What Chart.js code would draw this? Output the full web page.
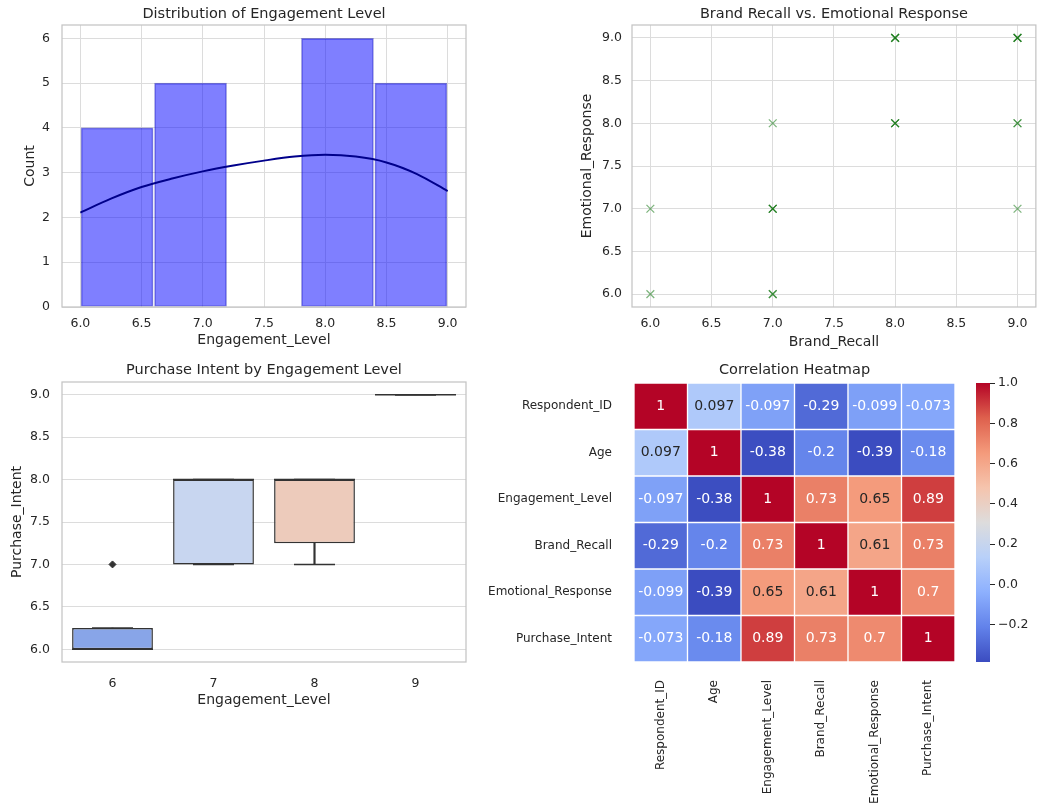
<!DOCTYPE html>
<html>
<head>
<meta charset="utf-8">
<script src="https://cdn.jsdelivr.net/npm/chart.js@4.4.1/dist/chart.umd.min.js"></script>
<style>
  body { margin: 0; background: #fff; }
  #wrap { position: relative; width: 1037px; height: 803px; overflow: hidden; }
  canvas { position: absolute; }
</style>
</head>
<body>
<div id="wrap">
  <canvas id="histChart" width="480" height="360" style="left:0;top:0"></canvas>
  <canvas id="scatterChart" width="497" height="360" style="left:540px;top:0"></canvas>
  <canvas id="boxChart" width="480" height="370" style="left:0;top:350px"></canvas>
  <canvas id="heatChart" width="480" height="453" style="left:480px;top:350px"></canvas>
  <canvas id="cbarChart" width="77" height="453" style="left:960px;top:350px"></canvas>
</div>
<script>
// histogram of engagement level + kde
var binCenters = [6.3, 6.9, 7.5, 8.1, 8.7];
var binCounts = [4, 5, 0, 6, 5];
var kdeX = [6.0, 6.25, 6.5, 6.75, 7.0, 7.25, 7.5, 7.75, 8.0, 8.25, 8.5, 8.75, 9.0];
var kdeY = [2.11, 2.42, 2.68, 2.87, 3.03, 3.16, 3.27, 3.36, 3.40, 3.36, 3.23, 2.97, 2.59];

// scatter: brand recall vs emotional response
var brandRecall = [6, 6, 7, 7, 7, 7, 7, 7, 8, 8, 8, 8, 8, 8, 9, 9, 9, 9, 9, 9];
var emotionalResponse = [7, 6, 8, 7, 7, 7, 6, 6, 9, 9, 9, 8, 8, 8, 9, 9, 9, 8, 8, 7];

// boxplot: purchase intent by engagement level
var boxGroups = ['6', '7', '8', '9'];
var boxQ1 = [6, 7, 7.25, 9];
var boxQ3 = [6.25, 8, 8, 9];
var boxMedian = [6, 8, 8, 9];
var whiskerLow = [6, 7, 7, 9];
var whiskerHigh = [6.25, 8, 8, 9];
var outlierGroup = ['6'];
var outlierValue = [7];
var boxColors = ['#88a5e8', '#c8d6f0', '#edcbbb', '#e48a70'];

// correlation heatmap
var corrLabels = ['Respondent_ID', 'Age', 'Engagement_Level', 'Brand_Recall', 'Emotional_Response', 'Purchase_Intent'];
var corrValues = [
    [1, 0.097, -0.097, -0.29, -0.099, -0.073],
    [0.097, 1, -0.38, -0.2, -0.39, -0.18],
    [-0.097, -0.38, 1, 0.73, 0.65, 0.89],
    [-0.29, -0.2, 0.73, 1, 0.61, 0.73],
    [-0.099, -0.39, 0.65, 0.61, 1, 0.7],
    [-0.073, -0.18, 0.89, 0.73, 0.7, 1]
];
var cbarMin = -0.386;
var cbarMax = 1.0;
var cbarTicks = [-0.2, 0, 0.2, 0.4, 0.6, 0.8, 1.0];

Chart.defaults.font.family = "'DejaVu Sans', sans-serif";
Chart.defaults.font.size = 12.5;
Chart.defaults.color = '#262626';
Chart.defaults.animation = false;
Chart.defaults.plugins.legend.display = false;
Chart.defaults.plugins.tooltip.enabled = false;

var gridColor = '#dcdcdc';
var spineColor = '#c4c4c4';

// coolwarm colormap stops
var coolwarm = [[59,76,192],[98,130,234],[141,176,254],[184,208,249],[221,220,220],[245,196,173],[244,154,123],[222,96,77],[180,4,38]];
function coolwarmRgb(t) {
    t = Math.max(0, Math.min(1, t));
    var p = t * (coolwarm.length - 1);
    var i = Math.min(Math.floor(p), coolwarm.length - 2);
    var f = p - i;
    var a = coolwarm[i], b = coolwarm[i + 1];
    return [0, 1, 2].map(function(k) { return Math.round(a[k] + (b[k] - a[k]) * f); });
}
function corrColor(v) {
    var c = coolwarmRgb((v - cbarMin) / (cbarMax - cbarMin));
    return 'rgb(' + c.join(',') + ')';
}
function textColorFor(v) {
    var c = coolwarmRgb((v - cbarMin) / (cbarMax - cbarMin)).map(function(x) {
        x = x / 255;
        return x <= 0.03928 ? x / 12.92 : Math.pow((x + 0.055) / 1.055, 2.4);
    });
    var lum = 0.2126 * c[0] + 0.7152 * c[1] + 0.0722 * c[2];
    return lum > 0.42 ? '#262626' : '#ffffff';
}

// spines around the plot area
var frame = {
    id: 'frame',
    afterDatasetsDraw: function(chart) {
        var a = chart.chartArea, ctx = chart.ctx;
        ctx.save();
        ctx.strokeStyle = spineColor;
        ctx.lineWidth = 1.25;
        ctx.strokeRect(a.left, a.top, a.right - a.left, a.bottom - a.top);
        ctx.restore();
    }
};

function titleOpts(text, top, bottom) {
    return { display: true, text: text, fullSize: false, font: { size: 14.5, weight: 'normal' }, color: '#262626', padding: { top: top, bottom: bottom } };
}
function fixed1(v) { return Number(v).toFixed(1); }

// Distribution of Engagement Level
new Chart(document.getElementById('histChart'), {
    type: 'bar',
    data: {
        datasets: [{
            type: 'line',
            data: kdeX.map(function(x, i) { return { x: x, y: kdeY[i] }; }),
            borderColor: '#00008b',
            borderWidth: 2,
            pointRadius: 0,
            cubicInterpolationMode: 'monotone'
        }, {
            data: binCenters.map(function(x, i) { return { x: x, y: binCounts[i] }; }),
            backgroundColor: 'rgba(0,0,255,0.5)',
            borderColor: 'rgba(0,0,170,0.45)',
            borderWidth: 1,
            borderSkipped: false,
            barThickness: 'flex',
            barPercentage: 0.98,
            categoryPercentage: 1
        }]
    },
    options: {
        responsive: false,
        layout: { autoPadding: false, padding: { right: 14 } },
        plugins: { title: titleOpts('Distribution of Engagement Level', 6, 1.6) },
        scales: {
            x: {
                type: 'linear', min: 5.85, max: 9.15, offset: false,
                grid: { offset: false, color: gridColor, drawTicks: false },
                border: { display: false },
                ticks: { stepSize: 0.5, includeBounds: false, padding: 9.5, callback: fixed1 },
                title: { display: true, text: 'Engagement_Level', font: { size: 14 }, padding: { bottom: 11.6 } },
                afterFit: function(s) { s.height = 53; }
            },
            y: {
                min: 0, max: 6.3,
                grid: { color: gridColor, drawTicks: false },
                border: { display: false },
                ticks: { stepSize: 1, includeBounds: false, padding: 12 },
                title: { display: true, text: 'Count', font: { size: 14 }, padding: { top: 21.6 } },
                afterFit: function(s) { s.width = 62; }
            }
        }
    },
    plugins: [frame]
});

// Brand Recall vs. Emotional Response
new Chart(document.getElementById('scatterChart'), {
    type: 'scatter',
    data: {
        datasets: [{
            data: brandRecall.map(function(x, i) { return { x: x, y: emotionalResponse[i] }; }),
            pointStyle: 'crossRot',
            pointRadius: 5.5,
            borderWidth: 1.3,
            borderColor: 'rgba(0,110,0,0.5)'
        }]
    },
    options: {
        responsive: false,
        layout: { autoPadding: false, padding: { right: 1 } },
        plugins: { title: titleOpts('Brand Recall vs. Emotional Response', 6, 1.6) },
        scales: {
            x: {
                min: 5.85, max: 9.15,
                grid: { color: gridColor, drawTicks: false },
                border: { display: false },
                ticks: { stepSize: 0.5, includeBounds: false, padding: 9.5, callback: fixed1 },
                title: { display: true, text: 'Brand_Recall', font: { size: 14 }, padding: { bottom: 9.6 } },
                afterFit: function(s) { s.height = 53; }
            },
            y: {
                min: 5.85, max: 9.15,
                grid: { color: gridColor, drawTicks: false },
                border: { display: false },
                ticks: { stepSize: 0.5, includeBounds: false, padding: 10, callback: fixed1 },
                title: { display: true, text: 'Emotional_Response', font: { size: 14 }, padding: { top: 38.6 } },
                afterFit: function(s) { s.width = 92; }
            }
        }
    },
    plugins: [frame]
});

// Purchase Intent by Engagement Level
new Chart(document.getElementById('boxChart'), {
    type: 'bar',
    data: {
        labels: boxGroups,
        datasets: [{
            type: 'line',
            data: outlierGroup.map(function(g, i) { return { x: g, y: outlierValue[i] }; }),
            showLine: false, pointStyle: 'rectRot', pointRadius: 3.5,
            backgroundColor: '#333', borderColor: '#333', borderWidth: 1, order: 0
        }, {
            type: 'line',
            data: boxGroups.map(function(g, i) { return { x: g, y: boxMedian[i] }; }),
            showLine: false, pointStyle: 'line', pointRadius: 40.5,
            borderColor: '#333', borderWidth: 1.5, order: 1
        }, {
            type: 'line',
            data: boxGroups.map(function(g, i) { return { x: g, y: whiskerLow[i] }; })
                .concat(boxGroups.map(function(g, i) { return { x: g, y: whiskerHigh[i] }; })),
            showLine: false, pointStyle: 'line', pointRadius: 20.5,
            borderColor: '#333', borderWidth: 1.5, order: 1
        }, {
            data: boxGroups.map(function(g, i) { return [boxQ1[i], boxQ3[i]]; }),
            backgroundColor: boxColors, borderColor: '#333', borderWidth: 1.5, borderSkipped: false,
            barPercentage: 0.8, categoryPercentage: 1, grouped: false, order: 2
        }, {
            data: boxGroups.map(function(g, i) { return [whiskerLow[i], boxQ1[i]]; }),
            backgroundColor: '#333', barThickness: 1.5, grouped: false, order: 3
        }, {
            data: boxGroups.map(function(g, i) { return [boxQ3[i], whiskerHigh[i]]; }),
            backgroundColor: '#333', barThickness: 1.5, grouped: false, order: 3
        }]
    },
    options: {
        responsive: false,
        layout: { autoPadding: false, padding: { right: 14 } },
        plugins: { title: titleOpts('Purchase Intent by Engagement Level', 11.3, 3.3) },
        scales: {
            x: {
                type: 'category', offset: true,
                grid: { display: false },
                border: { display: false },
                ticks: { padding: 6 },
                title: { display: true, text: 'Engagement_Level', font: { size: 14 }, padding: { bottom: 11.6 } },
                afterFit: function(s) { s.height = 58; }
            },
            y: {
                min: 5.85, max: 9.15,
                grid: { color: gridColor, drawTicks: false },
                border: { display: false },
                ticks: { stepSize: 0.5, includeBounds: false, padding: 12, callback: fixed1 },
                title: { display: true, text: 'Purchase_Intent', font: { size: 14 }, padding: { top: 8.6 } },
                afterFit: function(s) { s.width = 62; }
            }
        }
    },
    plugins: [frame]
});

// numbers written in each heatmap cell
var cellText = {
    id: 'cellText',
    afterDatasetsDraw: function(chart) {
        var ctx = chart.ctx;
        ctx.save();
        ctx.font = "14px 'DejaVu Sans', sans-serif";
        ctx.textAlign = 'center';
        ctx.textBaseline = 'middle';
        corrValues.forEach(function(row, i) {
            var meta = chart.getDatasetMeta(i);
            row.forEach(function(v, j) {
                var bar = meta.data[j];
                ctx.fillStyle = textColorFor(v);
                ctx.fillText(String(v), bar.x, (bar.y + bar.base) / 2);
            });
        });
        ctx.restore();
    }
};

// Correlation Heatmap
new Chart(document.getElementById('heatChart'), {
    type: 'bar',
    data: {
        labels: corrLabels,
        datasets: corrValues.map(function(row, i) {
            return {
                label: corrLabels[i],
                data: row.map(function() { return 1; }),
                backgroundColor: row.map(corrColor),
                borderColor: '#ffffff',
                borderWidth: 1,
                borderSkipped: false,
                barPercentage: 1,
                categoryPercentage: 1
            };
        })
    },
    options: {
        responsive: false,
        layout: { autoPadding: false, padding: { right: 5 } },
        plugins: { title: titleOpts('Correlation Heatmap', 11.3, 4.3) },
        scales: {
            x: {
                stacked: true,
                grid: { display: false },
                border: { display: false },
                ticks: { minRotation: 90, maxRotation: 90, autoSkip: false, padding: 10, font: { size: 12 } },
                afterFit: function(s) { s.height = 141; }
            },
            y: {
                stacked: true, min: 0, max: 6, reverse: true,
                grid: { display: false },
                border: { display: false },
                afterBuildTicks: function(s) {
                    s.ticks = corrLabels.map(function(l, i) { return { value: i + 0.5 }; });
                },
                ticks: {
                    padding: 14, font: { size: 12 },
                    callback: function(v, i) { return corrLabels[i]; }
                },
                afterFit: function(s) { s.width = 154; }
            }
        }
    },
    plugins: [cellText]
});

// colour bar
new Chart(document.getElementById('cbarChart'), {
    type: 'bar',
    data: {
        labels: [''],
        datasets: [{
            data: [[cbarMin, cbarMax]],
            backgroundColor: function(c) {
                var a = c.chart.chartArea;
                if (!a) return 'transparent';
                var g = c.chart.ctx.createLinearGradient(0, a.bottom, 0, a.top);
                coolwarm.forEach(function(rgb, k) {
                    g.addColorStop(k / (coolwarm.length - 1), 'rgb(' + rgb.join(',') + ')');
                });
                return g;
            },
            borderWidth: 0,
            barPercentage: 1,
            categoryPercentage: 1
        }]
    },
    options: {
        responsive: false,
        layout: { autoPadding: false, padding: { left: 16, top: 33, bottom: 141, right: 0 } },
        scales: {
            x: { display: false },
            y: {
                position: 'right', min: cbarMin, max: cbarMax,
                afterBuildTicks: function(s) {
                    s.ticks = cbarTicks.map(function(v) { return { value: v }; });
                },
                grid: { drawOnChartArea: false, drawTicks: true, tickLength: 5, tickColor: '#262626' },
                border: { display: false },
                ticks: {
                    padding: 3,
                    callback: function(v) { return (v < 0 ? '\u2212' : '') + Math.abs(v).toFixed(1); }
                },
                afterFit: function(s) { s.width = 47; }
            }
        }
    }
});
</script>
</body>
</html>
